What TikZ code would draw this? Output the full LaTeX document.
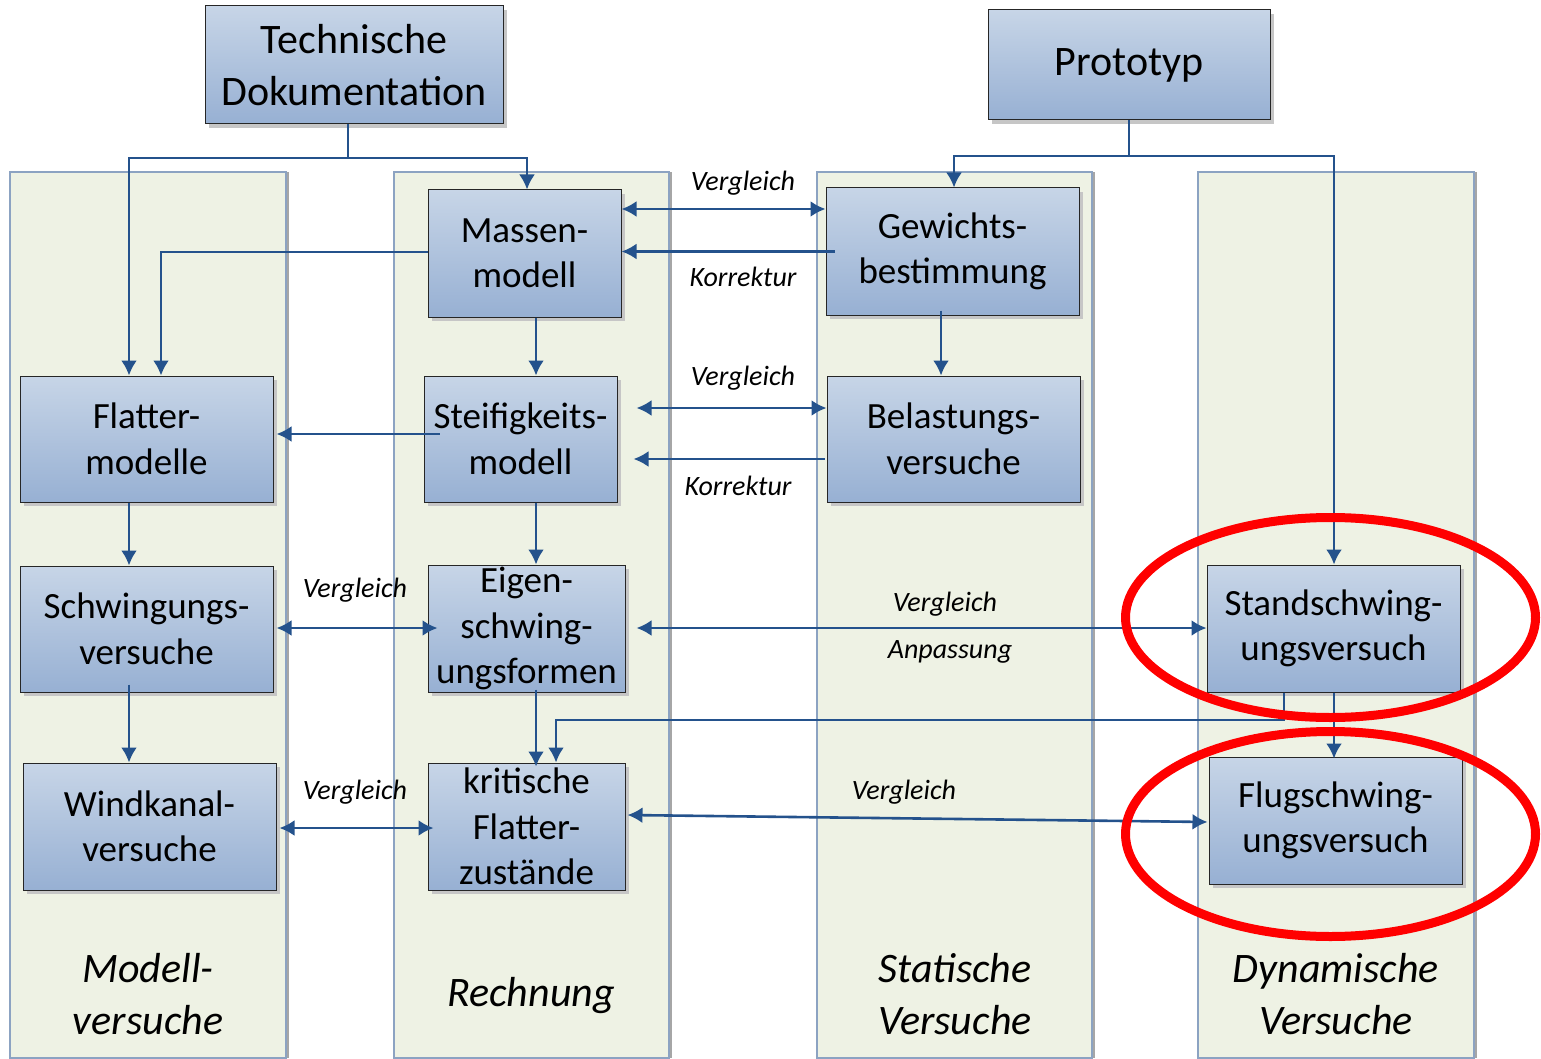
\documentclass[tikz,border=0pt]{standalone}
\usepackage{fontspec}
\setmainfont{Carlito}
\usetikzlibrary{arrows.meta,shadows}
\definecolor{arr}{HTML}{24528C}
\definecolor{boxtop}{HTML}{C7D5E7}
\definecolor{boxbot}{HTML}{97B0D3}
\definecolor{colfill}{HTML}{EEF2E4}
\definecolor{colline}{HTML}{8CA3C2}
\tikzset{
  colbox/.style={draw=colline, line width=1.2pt, fill=colfill, inner sep=0pt,
    drop shadow={shadow xshift=3pt, shadow yshift=0pt, fill=gray!70, opacity=1}},
  blk/.style={draw=black!85, line width=1pt, top color=boxtop, bottom color=boxbot,
    inner sep=0pt, align=center, font=\fontsize{37}{45.5}\selectfont,
    drop shadow={shadow xshift=4pt, shadow yshift=-4pt, fill=gray!45, opacity=1}},
  bigblk/.style={blk, font=\fontsize{42}{52}\selectfont},
  ln/.style={draw=arr, line width=2.6pt},
  a1/.style={ln, -{Latex[length=15pt,width=16pt]}},
  a2/.style={ln, {Latex[length=15pt,width=16pt]}-{Latex[length=15pt,width=16pt]}},
  lbl/.style={font=\fontsize{28}{32}\selectfont\itshape, inner sep=0pt},
  coltitle/.style={font=\fontsize{42}{52}\selectfont\itshape, align=center, inner sep=0pt},
  ring/.style={draw=red, line width=9pt}
}
\begin{document}
\begin{tikzpicture}[x=1pt,y=-1pt]
\useasboundingbox (0,0) rectangle (1541,1059);
% columns
\node[colbox, minimum width=276pt, minimum height=886pt] (col1) at (148,615) {};
\node[colbox, minimum width=275pt, minimum height=886pt] (col2) at (531.5,615) {};
\node[colbox, minimum width=275pt, minimum height=886pt] (col3) at (954.5,615) {};
\node[colbox, minimum width=276pt, minimum height=886pt] (col4) at (1336,615) {};
% column titles
\node[coltitle] (t1) at (148,994) {Modell-\\versuche};
\node[coltitle] (t2) at (531,996) {Rechnung};
\node[coltitle] (t3) at (955,994) {Statische\\Versuche};
\node[coltitle] (t4) at (1336,994) {Dynamische\\Versuche};
% blocks
\node[bigblk, minimum width=298pt, minimum height=118pt] (tech) at (354,65) {Technische\\Dokumentation};
\node[bigblk, minimum width=282pt, minimum height=110pt] (proto) at (1129,65) {Prototyp};
\node[blk, minimum width=193pt, minimum height=127pt] (massen) at (524.5,253.5) {Massen-\\modell};
\node[blk, minimum width=253pt, minimum height=127pt] (gewicht) at (952.5,251.5) {Gewichts-\\bestimmung};
\node[blk, minimum width=253pt, minimum height=126pt] (flatter) at (146.5,439) {Flatter-\\modelle};
\node[blk, minimum width=193pt, minimum height=126pt] (steif) at (520.5,439) {Steifigkeits-\\modell};
\node[blk, minimum width=253pt, minimum height=126pt] (belast) at (953.5,439) {Belastungs-\\versuche};
\node[blk, minimum width=253pt, minimum height=126pt] (schwing) at (146.5,629) {Schwingungs-\\versuche};
\node[blk, minimum width=197pt, minimum height=127pt] (eigen) at (526.5,628.5) {Eigen-\\schwing-\\ungsformen};
\node[blk, minimum width=253pt, minimum height=127pt] (stand) at (1333.5,628.5) {Standschwing-\\ungsversuch};
\node[blk, minimum width=253pt, minimum height=127pt] (wind) at (149.5,826.5) {Windkanal-\\versuche};
\node[blk, minimum width=197pt, minimum height=127pt] (krit) at (526.5,826.5) {kritische\\Flatter-\\zustände};
\node[blk, minimum width=253pt, minimum height=127pt] (flug) at (1335.5,820.5) {Flugschwing-\\ungsversuch};
% connectors
\draw[a1] (tech.south -| 348,0) -- (348,158) -| (massen.north -| 527,0);
\draw[a1] (348,158) -| (flatter.north -| 129,0);
\draw[a1] (proto.south) -- (1129,156) -| (gewicht.north -| 954,0);
\draw[a1] (1129,156) -| (stand.north -| 1334,0);
\draw[a2] (massen.east |- 0,209) -- (gewicht.west |- 0,209);
\draw[a1] ([xshift=9pt]gewicht.west) -- (massen.east |- gewicht.west);
\draw[a1] (massen.west |- 0,252) -| (flatter.north -| 161,0);
\draw[a1] (massen.south -| 536,0) -- (steif.north -| 536,0);
\draw[a1] (gewicht.south -| 941,0) ++(0,-5) -- (belast.north -| 941,0);
\draw[a2, shorten <=19pt] (steif.east |- 0,408) -- (belast.west |- 0,408);
\draw[a1, shorten >=16pt] ([xshift=-2pt]belast.west |- 0,459) -- (steif.east |- 0,459);
\draw[a1] ([xshift=16pt]steif.west |- 0,434) -- ([xshift=3pt]flatter.east |- 0,434);
\draw[a1] (flatter.south -| 129,0) -- (schwing.north -| 129,0);
\draw[a1] (steif.south -| 536,0) -- (eigen.north -| 536,0);
\draw[a2] ([xshift=3pt]schwing.east |- 0,628) -- ([xshift=10pt]eigen.west |- 0,628);
\draw[a2, shorten <=11pt] (eigen.east |- 0,628) -- (stand.west |- 0,628);
\draw[a1] ([yshift=8pt]schwing.south -| 129,0) -- (wind.north -| 129,0);
\draw[a1] ([yshift=3pt]eigen.south -| 536,0) -- ([yshift=-4pt]krit.north -| 536,0);
\draw[a1] (stand.south -| 1284,0) -- (1284,720) -| (krit.north -| 556,0);
\draw[a1] (stand.south -| 1334,0) -- ([yshift=-2pt]flug.north -| 1334,0);
\draw[a2] ([xshift=3pt]wind.east |- 0,828) -- ([xshift=6pt]krit.west |- 0,828);
\draw[a2] ([xshift=2pt]krit.east |- 0,815) -- ([xshift=-1pt]flug.west |- 0,822);
% labels
\node[lbl] (l1) at (743,183) {Vergleich};
\node[lbl] (l2) at (743,277) {Korrektur};
\node[lbl] (l3) at (743,378) {Vergleich};
\node[lbl] (l4) at (738,486) {Korrektur};
\node[lbl] (l5) at (355,590) {Vergleich};
\node[lbl] (l6) at (945,604) {Vergleich};
\node[lbl] (l7) at (950,652) {Anpassung};
\node[lbl] (l8) at (355,792) {Vergleich};
\node[lbl] (l9) at (904,792) {Vergleich};
% red rings
\draw[ring] (1330.5,617.5) ellipse [x radius=205, y radius=100];
\draw[ring] (1330.5,834) ellipse [x radius=205, y radius=102.5];
\end{tikzpicture}
\end{document}
